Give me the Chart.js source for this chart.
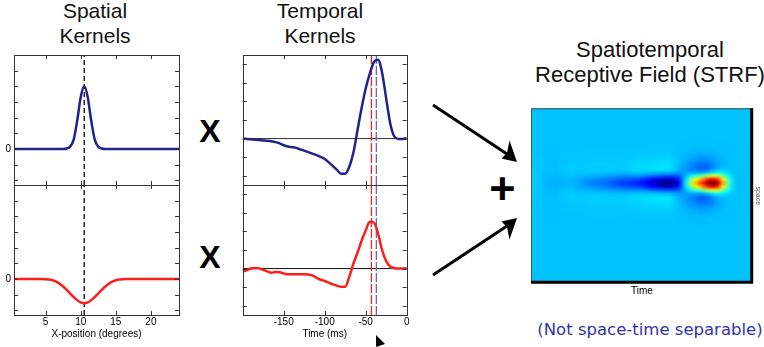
<!DOCTYPE html>
<html>
<head>
<meta charset="utf-8">
<script src="https://cdn.jsdelivr.net/npm/chart.js@4.4.1/dist/chart.umd.min.js"></script>
<style>
  html, body { margin: 0; padding: 0; background: #fff; }
  body { width: 764px; height: 347px; position: relative; overflow: hidden; font-family: "Liberation Sans", Arial, sans-serif; }
  canvas { position: absolute; }
  .txt { position: absolute; text-align: center; white-space: nowrap; color: #111; }
</style>
</head>
<body>
<div class="txt" style="left:35px; top:-2px; width:120px; font-size:21px; line-height:25px;">Spatial<br>Kernels</div>
<div class="txt" style="left:260px; top:-2px; width:120px; font-size:21px; line-height:25px;">Temporal<br>Kernels</div>
<div class="txt" style="left:520px; top:37px; width:260px; font-size:22px; line-height:25px;">Spatiotemporal<br>Receptive Field (STRF)</div>
<div class="txt" style="left:190px; top:116px; width:40px; font-size:32px; line-height:31px; font-weight:bold; color:#000;">X</div>
<div class="txt" style="left:190px; top:242px; width:40px; font-size:32px; line-height:31px; font-weight:bold; color:#000;">X</div>
<div class="txt" style="left:480px; top:166px; width:45px; font-size:45px; line-height:45px; font-weight:bold; color:#000;">+</div>
<div class="txt" style="left:520px; top:320px; width:260px; font-family:'DejaVu Sans', sans-serif; font-size:16.5px; line-height:20px; color:#3333aa;">(Not space-time separable)</div>

<svg style="position:absolute; left:0; top:0;" width="764" height="347">
  <line x1="433" y1="105" x2="507" y2="154" stroke="#000" stroke-width="3"/>
  <polygon points="517,162 501.5,158.5 507,153 509.5,140.5" fill="#000"/>
  <line x1="433" y1="275" x2="507" y2="226" stroke="#000" stroke-width="3"/>
  <polygon points="517,218 501.5,221.5 507,227 509.5,239.5" fill="#000"/>
  <polygon points="376,335 385,344 376,347" fill="#000"/>
</svg>

<canvas id="spTop" width="195" height="150" style="left:0px; top:45px;"></canvas>
<canvas id="spBot" width="195" height="172" style="left:0px; top:175px;"></canvas>
<canvas id="tpTop" width="195" height="150" style="left:225px; top:45px;"></canvas>
<canvas id="tpBot" width="195" height="172" style="left:225px; top:175px;"></canvas>
<canvas id="strf" width="249" height="215" style="left:515px; top:95px;"></canvas>

<script>
// x-position samples (degrees)
const spatialX = [0.5, 1, 1.5, 2, 2.5, 3, 3.5, 4, 4.5, 5, 5.5, 6, 6.5, 7, 7.5, 8,
  8.5, 9, 9.5, 10, 10.5, 11, 11.5, 12, 12.5, 13, 13.5, 14, 14.5, 15, 15.5, 16,
  16.5, 17, 17.5, 18, 18.5, 19, 19.5, 20, 20.5, 21, 21.5, 22, 22.5, 23, 23.5, 24];
// narrow positive spatial kernel (blue)
const spatialBlue = [0, 0, 0, 0, 0, 0, 0, 0, 0, 0, 0, 0, 0, 0, 0, 0.03,
  0.15, 0.6, 1.8, 3.3, 4.0, 3.3, 1.8, 0.6, 0.15, 0.03, 0, 0, 0, 0, 0, 0,
  0, 0, 0, 0, 0, 0, 0, 0, 0, 0, 0, 0, 0, 0, 0, 0];
// wide negative spatial kernel (red)
const spatialRed = [0, 0, 0, 0, 0, 0, 0, 0, 0, -0.01, -0.03, -0.08, -0.17, -0.3, -0.48, -0.7,
  -0.93, -1.15, -1.35, -1.5, -1.56, -1.5, -1.35, -1.15, -0.93, -0.7, -0.48, -0.3, -0.17, -0.08, -0.03, -0.01,
  0, 0, 0, 0, 0, 0, 0, 0, 0, 0, 0, 0, 0, 0, 0, 0];

// time samples (ms)
const timeMs = [-200, -195, -190, -185, -180, -175, -170, -165, -160, -155, -150,
  -145, -140, -135, -130, -125, -120, -115, -110, -105, -100,
  -95, -90, -85, -80, -75, -70, -65, -60, -55, -50,
  -45, -40, -35, -30, -25, -20, -15, -10, -5, 0];
const temporalBlue = [0, -0.02, -0.04, -0.06, -0.08, -0.1, -0.12, -0.15, -0.19, -0.26, -0.36,
  -0.43, -0.46, -0.5, -0.58, -0.65, -0.73, -0.81, -0.89, -0.99, -1.1,
  -1.28, -1.48, -1.69, -1.9, -1.9, -1.52, -0.75, 0.45, 1.65, 2.7,
  3.5, 4.12, 4.25, 3.55, 2.15, 0.8, 0.1, -0.02, -0.02, 0.03];
const temporalRed = [-0.15, -0.09, 0, 0.03, 0.01, -0.07, -0.15, -0.22, -0.19, -0.2, -0.26,
  -0.31, -0.31, -0.31, -0.31, -0.31, -0.32, -0.37, -0.5, -0.6, -0.67,
  -0.76, -0.85, -0.92, -0.98, -0.98, -0.45, 0.27, 0.85, 1.5, 2.05,
  2.52, 2.48, 1.9, 1.0, 0.4, 0.1, 0.02, 0, 0, 0.03];

const spatialTicks = [5, 10, 15, 20];
const timeTicks = [-150, -100, -50, 0];
const spatialYTicks = [-2, -1, 0, 1, 2, 3, 4, 5];
const temporalYTicks = [-2, -1, 0, 1, 2, 3, 4];
const spatialCentre = 10.5;
const redPeakMs = -43;
const bluePeakMs = -37;

const BLUE = '#22228c';
const RED = '#ff1c1c';
const strfMin = -6.2, strfMax = 13.5;

Chart.defaults.font.family = "'Liberation Sans', Arial, sans-serif";

function pts(xs, ys) { return xs.map((x, i) => ({ x: x, y: ys[i] })); }

function curve(xs, ys, color) {
  return { data: pts(xs, ys), borderColor: color, borderWidth: 2.5, pointRadius: 0,
    cubicInterpolationMode: 'monotone', fill: false };
}
function vline(x, lo, hi, color, dash) {
  return { data: [{ x: x, y: lo }, { x: x, y: hi }], borderColor: color, borderWidth: 1.3,
    borderDash: dash, pointRadius: 0 };
}

// matlab style box with inward ticks
const boxTicks = {
  id: 'boxTicks',
  afterDatasetsDraw(chart, args, opts) {
    const { ctx, chartArea: a, scales } = chart;
    ctx.save();
    ctx.strokeStyle = '#333';
    ctx.lineWidth = 1;
    ctx.beginPath();
    opts.xTicks.forEach(v => {
      const px = Math.round(scales.x.getPixelForValue(v)) + 0.5;
      ctx.moveTo(px, a.top); ctx.lineTo(px, a.top + 4);
      ctx.moveTo(px, a.bottom); ctx.lineTo(px, a.bottom - 4);
    });
    opts.yTicks.forEach(v => {
      const py = Math.round(scales.y.getPixelForValue(v)) + 0.5;
      ctx.moveTo(a.left, py); ctx.lineTo(a.left + 4, py);
      ctx.moveTo(a.right, py); ctx.lineTo(a.right - 4, py);
    });
    ctx.stroke();
    ctx.strokeRect(Math.round(a.left) + 0.5, Math.round(a.top) + 0.5, Math.round(a.width), Math.round(a.height));
    ctx.restore();
  }
};

function panel(id, datasets, o) {
  const showX = !!o.xTitle;
  return new Chart(document.getElementById(id), {
    type: 'line',
    data: { datasets: datasets },
    options: {
      responsive: false,
      animation: false,
      events: [],
      layout: { padding: o.padding },
      plugins: {
        legend: { display: false },
        tooltip: { enabled: false },
        boxTicks: { xTicks: o.xTicks, yTicks: o.yTicks }
      },
      scales: {
        x: {
          type: 'linear', min: o.xMin, max: o.xMax,
          display: showX,
          afterBuildTicks: s => { s.ticks = o.xTicks.map(v => ({ value: v })); },
          afterFit: s => { s.height = showX ? 25 : 0; },
          grid: { display: false, drawTicks: false },
          border: { display: false },
          ticks: { color: '#000', font: { size: 10 }, padding: 1, maxRotation: 0, autoSkip: false },
          title: { display: showX, text: o.xTitle || '', color: '#000', font: { size: 10 }, padding: 0 }
        },
        y: {
          type: 'linear', min: o.yMin, max: o.yMax,
          display: o.showZero,
          afterBuildTicks: s => { s.ticks = [{ value: 0 }]; },
          afterFit: s => { s.width = o.showZero ? 14 : 0; },
          grid: { display: false, drawTicks: false },
          border: { display: false },
          ticks: { color: '#000', font: { size: 10 }, padding: 3 }
        }
      }
    },
    plugins: [boxTicks]
  });
}

// spatial kernels
panel('spTop', [
  curve(spatialX, spatialBlue, BLUE),
  vline(spatialCentre, -2.3, 6, '#000', [5, 3])
], { padding: { left: 0, top: 10, right: 16, bottom: 10 }, xMin: 0.5, xMax: 24, yMin: -2.3, yMax: 6,
     xTicks: spatialTicks, yTicks: spatialYTicks, showZero: true });

panel('spBot', [
  curve(spatialX, spatialRed, RED),
  vline(spatialCentre, -2.3, 6, '#000', [5, 3])
], { padding: { left: 0, top: 10, right: 16, bottom: 7 }, xMin: 0.5, xMax: 24, yMin: -2.3, yMax: 6,
     xTicks: spatialTicks, yTicks: spatialYTicks, showZero: true, xTitle: 'X-position (degrees)' });

// temporal kernels
const zeroLine = { data: [{ x: -200, y: 0 }, { x: 0, y: 0 }], borderColor: '#333', borderWidth: 1, pointRadius: 0 };

panel('tpTop', [
  curve(timeMs, temporalBlue, BLUE),
  vline(redPeakMs, -2.5, 4.5, '#ff2020', [9, 2]),
  vline(bluePeakMs, -2.5, 4.5, '#6666cc', [9, 2]),
  zeroLine
], { padding: { left: 17.7, top: 10, right: 13.3, bottom: 10 }, xMin: -200, xMax: 0, yMin: -2.5, yMax: 4.5,
     xTicks: timeTicks, yTicks: temporalYTicks, showZero: false });

panel('tpBot', [
  curve(timeMs, temporalRed, RED),
  vline(redPeakMs, -2.5, 4.5, '#ff2020', [9, 2]),
  vline(bluePeakMs, -2.5, 4.5, '#6666cc', [9, 2]),
  Object.assign({}, zeroLine, { borderColor: '#111' })
], { padding: { left: 17.7, top: 10, right: 13.3, bottom: 7 }, xMin: -200, xMax: 0, yMin: -2.5, yMax: 4.5,
     xTicks: timeTicks, yTicks: temporalYTicks, showZero: false, xTitle: 'Time (ms)' });

// STRF = blue spatial x blue temporal + red spatial x red temporal
function jet(v) {
  v = Math.max(0, Math.min(1, v));
  const c = t => Math.round(255 * Math.max(0, Math.min(1, 1.5 - Math.abs(t))));
  return [c(4 * v - 3), c(4 * v - 2), c(4 * v - 1)];
}

const strfPlugin = {
  id: 'strf',
  beforeDatasetsDraw(chart) {
    const { ctx, chartArea: a, scales: { x, y } } = chart;
    const nx = timeMs.length, ny = spatialX.length;
    const off = document.createElement('canvas');
    off.width = nx; off.height = ny;
    const octx = off.getContext('2d');
    const img = octx.createImageData(nx, ny);
    for (let r = 0; r < ny; r++) {
      for (let c = 0; c < nx; c++) {
        const v = spatialBlue[r] * temporalBlue[c] + spatialRed[r] * temporalRed[c];
        const rgb = jet((v - strfMin) / (strfMax - strfMin));
        const k = (r * nx + c) * 4;
        img.data[k] = rgb[0]; img.data[k + 1] = rgb[1]; img.data[k + 2] = rgb[2]; img.data[k + 3] = 255;
      }
    }
    octx.putImageData(img, 0, 0);
    const x0 = x.getPixelForValue(timeMs[0] - 2.5), x1 = x.getPixelForValue(timeMs[nx - 1] + 2.5);
    const y0 = y.getPixelForValue(spatialX[0] - 0.25), y1 = y.getPixelForValue(spatialX[ny - 1] + 0.25);
    ctx.save();
    ctx.imageSmoothingEnabled = true;
    ctx.imageSmoothingQuality = 'high';
    ctx.drawImage(off, x0, y0, x1 - x0, y1 - y0);
    // frame: thin left/top, heavy right/bottom
    ctx.strokeStyle = '#555';
    ctx.lineWidth = 1;
    ctx.beginPath();
    ctx.moveTo(a.left + 0.5, a.bottom); ctx.lineTo(a.left + 0.5, a.top + 0.5); ctx.lineTo(a.right, a.top + 0.5);
    ctx.stroke();
    ctx.strokeStyle = '#000';
    ctx.lineWidth = 3;
    ctx.beginPath();
    ctx.moveTo(a.left, a.bottom - 1); ctx.lineTo(a.right - 1, a.bottom - 1); ctx.lineTo(a.right - 1, a.top);
    ctx.stroke();
    ctx.restore();
  }
};

new Chart(document.getElementById('strf'), {
  type: 'scatter',
  data: { datasets: [] },
  options: {
    responsive: false,
    animation: false,
    events: [],
    layout: { padding: { left: 16, top: 13.3, right: 2.3, bottom: 12.7 } },
    plugins: { legend: { display: false }, tooltip: { enabled: false } },
    scales: {
      x: {
        type: 'linear', min: -202.5, max: 2.5,
        afterFit: s => { s.height = 14; },
        grid: { display: false, drawTicks: false },
        border: { display: false },
        ticks: { display: false },
        title: { display: true, text: 'Time', color: '#000', font: { size: 10 }, padding: 0 }
      },
      y: {
        type: 'linear', position: 'right', reverse: true, min: 0.25, max: 24.25,
        afterFit: s => { s.width = 9; },
        grid: { display: false, drawTicks: false },
        border: { display: false },
        ticks: { display: false },
        title: { display: true, text: 'space', color: '#555', font: { size: 7 }, padding: 0 }
      }
    }
  },
  plugins: [strfPlugin]
});
</script>
</body>
</html>
